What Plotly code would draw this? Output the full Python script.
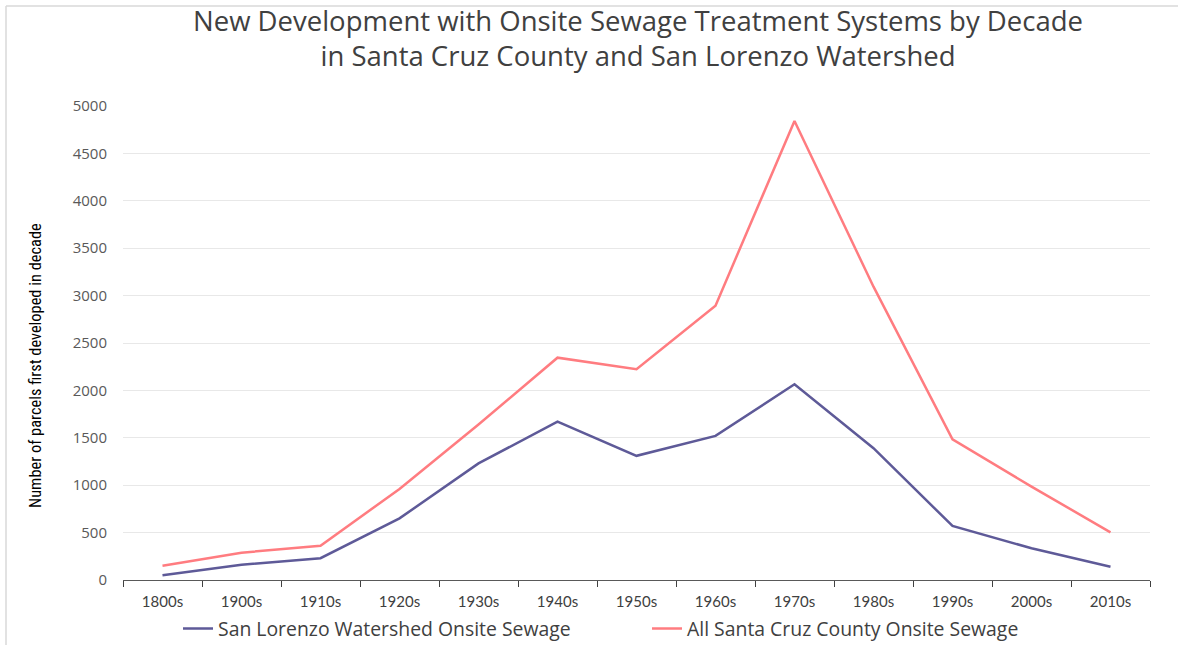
import plotly.graph_objects as go

decades = ["1800s", "1900s", "1910s", "1920s", "1930s", "1940s", "1950s",
           "1960s", "1970s", "1980s", "1990s", "2000s", "2010s"]
san_lorenzo = [50, 160, 230, 650, 1230, 1670, 1310, 1520, 2065, 1390, 570, 335, 140]
santa_cruz = [150, 288, 362, 960, 1640, 2345, 2223, 2894, 4842, 3094, 1484, 985, 503]
title_text = ("New Development with Onsite Sewage Treatment Systems by Decade<br>"
              "in Santa Cruz County and San Lorenzo Watershed")

W, H = 1178, 645
L, R, T, B = 123, 28, 106, 65
PW, PH = W - L - R, H - T - B

def px_x(x):
    return (x - L) / PW

def px_y(y):
    return (H - B - y) / PH

narrow = "Liberation Sans Narrow, Roboto Condensed, sans-serif"

fig = go.Figure()
fig.add_trace(go.Scatter(x=decades, y=san_lorenzo, mode="lines",
                         name="San Lorenzo Watershed Onsite Sewage",
                         line=dict(color="#5E5A98", width=2.5), legend="legend"))
fig.add_trace(go.Scatter(x=decades, y=santa_cruz, mode="lines",
                         name="All Santa Cruz County Onsite Sewage",
                         line=dict(color="#FF7C80", width=2.5), legend="legend2"))

legend_font = dict(family="Open Sans, sans-serif", size=19.4, color="#404040")

fig.update_layout(
    width=W, height=H,
    margin=dict(l=L, r=R, t=T, b=B, autoexpand=False),
    paper_bgcolor="white", plot_bgcolor="white",
    hovermode=False,
    title=dict(text=title_text, xref="paper", x=px_x(638), xanchor="center",
               yref="container", y=1 - (38 - 7.5) / H, yanchor="middle",
               font=dict(family="Open Sans, sans-serif", size=27.5, color="#404040")),
    showlegend=True,
    legend=dict(orientation="h", x=px_x(178), xanchor="left", y=px_y(629), yanchor="middle",
                font=legend_font, bgcolor="rgba(0,0,0,0)"),
    legend2=dict(orientation="h", x=px_x(647), xanchor="left", y=px_y(629), yanchor="middle",
                 font=legend_font, bgcolor="rgba(0,0,0,0)"),
    xaxis=dict(type="category", range=[-0.5, 12.5], showgrid=False,
               showline=True, linecolor="#595959", linewidth=1.2,
               ticks="outside", ticklen=6, tickcolor="#404040", tickson="boundaries",
               ticklabelstandoff=8,
               tickfont=dict(family="Lato, sans-serif", size=15, color="#404040")),
    yaxis=dict(range=[0, 5000], dtick=500, showgrid=True, gridcolor="#E8E8E8",
               zeroline=False, showline=False, ticks="", ticklabelstandoff=15,
               tickfont=dict(family="Open Sans, sans-serif", size=15, color="#595959")),
)

fig.add_annotation(text="Number of parcels first developed in decade",
                   xref="paper", yref="paper", x=px_x(35), y=px_y(366),
                   xanchor="center", yanchor="middle", textangle=-90, showarrow=False,
                   font=dict(family=narrow, size=16.4, color="#000000"))

fig.add_shape(type="line", xref="paper", yref="paper", x0=px_x(6), x1=px_x(1178), y0=px_y(6), y1=px_y(6),
              line=dict(color="#D9D9D9", width=1.5), layer="below")
fig.add_shape(type="line", xref="paper", yref="paper", x0=px_x(6), x1=px_x(6), y0=px_y(6), y1=px_y(645),
              line=dict(color="#D9D9D9", width=1.5), layer="below")

fig.write_html("out.html", config={"displayModeBar": False},
               post_script="document.body.style.margin='0';")
